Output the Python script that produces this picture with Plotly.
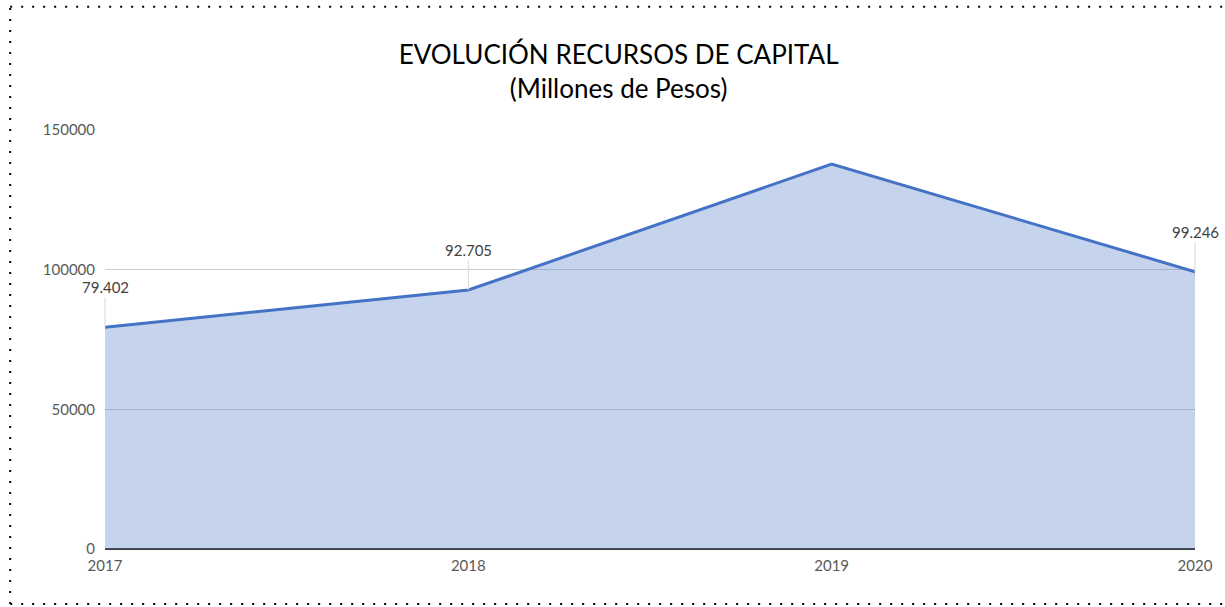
import plotly.graph_objects as go

years = ["2017", "2018", "2019", "2020"]
values = [79402, 92705, 137800, 99246]
labels = ["79.402", "92.705", "", "99.246"]
y_ticks = [0, 50000, 100000, 150000]

FONT = "Lato, Open Sans, sans-serif"

fig = go.Figure()
fig.add_trace(go.Scatter(
    x=years, y=values, mode="lines", fill="tozeroy",
    line=dict(color="#4472c4", width=3),
    fillcolor="rgba(68,114,196,0.31)",
    hoverinfo="x+y",
))

for i, (y, t) in enumerate(zip(values, labels)):
    if t:
        fig.add_annotation(
            x=i, y=y, xref="x", yref="y", text=t, showarrow=True, arrowhead=0,
            arrowwidth=1, arrowcolor="#d9d9d9", ax=0, ay=-40, xanchor="center",
            font=dict(family=FONT, size=15, color="#404040"),
        )

# dotted outer border
border = dict(color="black", width=2, dash="2px,9px")
fig.add_shape(type="line", xref="paper", yref="paper", x0=-0.087, x1=1.04, y0=1.294, y1=1.294, line=border)
fig.add_shape(type="line", xref="paper", yref="paper", x0=-0.087, x1=1.04, y0=-0.131, y1=-0.131, line=border)
fig.add_shape(type="line", xref="paper", yref="paper", x0=-0.087, x1=-0.087, y0=-0.131, y1=1.294, line=border)

fig.update_layout(
    width=1225, height=607,
    margin=dict(l=105, r=28, t=130, b=58),
    paper_bgcolor="white", plot_bgcolor="white",
    showlegend=False,
    title=dict(
        text="EVOLUCIÓN RECURSOS DE CAPITAL<br>(Millones de Pesos)",
        x=0.505, xref="container", xanchor="center",
        y=0.895, yref="container", yanchor="middle",
        font=dict(family=FONT, size=26, color="black"),
    ),
    font=dict(family=FONT, size=15, color="#595959"),
)
fig.update_xaxes(
    type="category", range=[0, 3], showgrid=False, showline=False,
    ticks="", ticklabelstandoff=6, tickfont=dict(size=15, color="#595959"),
)
fig.update_yaxes(
    range=[0, 150000], tickvals=y_ticks, ticktext=[str(v) for v in y_ticks],
    showgrid=True, gridcolor="#cccccc", gridwidth=1,
    zeroline=True, zerolinecolor="#404040", zerolinewidth=2,
    showline=False, ticks="", ticklabelstandoff=9,
    tickfont=dict(size=15, color="#595959"),
)

fig.write_html("out.html", config={"displayModeBar": False},
               post_script="document.body.style.margin='0';")
